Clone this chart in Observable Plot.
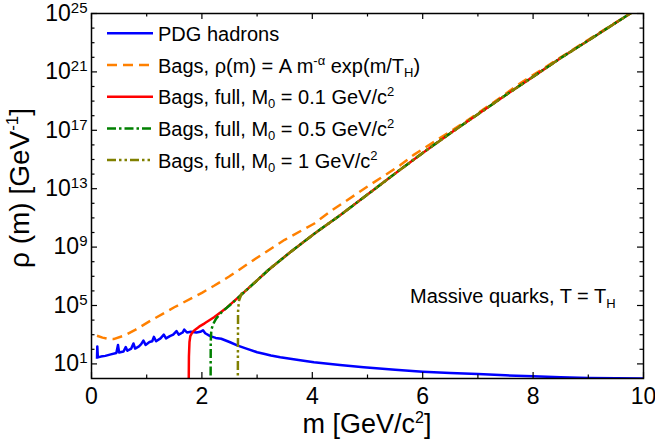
<!DOCTYPE html>
<html><head><meta charset="utf-8">
<script src="https://cdn.jsdelivr.net/npm/d3@7"></script>
<script src="https://cdn.jsdelivr.net/npm/@observablehq/plot@0.6"></script>
<style>
html,body{margin:0;padding:0;background:#fff;}
#chart{position:relative;width:655px;height:442px;}
svg text{white-space:pre;}
</style>
</head><body><div id="chart"></div>
<script>
// ---- data (y stored as log10 of rho) ----
const pdgM   = [0.100,0.105,0.115,0.17,0.25,0.35,0.45,0.48,0.50,0.58,0.62,0.65,0.72,0.76,0.79,0.86,0.90,0.94,0.98,1.05,1.10,1.13,1.17,1.25,1.31,1.35,1.42,1.48,1.54,1.58,1.65,1.68,1.73,1.80,1.90,1.97,2.02,2.06,2.15,2.25,2.35,2.50,2.65,2.82,3.00,3.12,3.25,3.42,3.75,4.03,4.50,4.93,5.50,6.00,6.50,7.00,7.50,8.00,8.50,9.00,9.50,10.0];
const pdgLog = [1.35,2.20,1.45,1.50,1.55,1.65,1.75,2.30,1.78,1.85,2.15,1.90,2.05,2.40,2.05,2.20,2.35,2.60,2.30,2.50,2.55,2.85,2.55,2.75,3.00,2.75,2.90,3.00,3.25,3.00,3.15,3.35,3.15,3.20,3.15,3.20,3.30,3.10,2.90,2.78,2.72,2.50,2.25,2.03,1.80,1.69,1.57,1.45,1.27,1.11,0.92,0.77,0.60,0.47,0.38,0.30,0.22,0.15,0.09,0.04,0.02,0.00];

const bagM   = [0.1,0.2,0.3,0.4,0.6,0.8,1.07,1.5,2.0,2.22,2.5,2.97,3.5,4.03,4.33,5.0,5.59,5.83,6.74,7.3,7.76,8.5,9.0,9.76,10.0];
const bagLog = [2.93,2.80,2.72,2.70,2.95,3.35,3.96,4.88,5.87,6.35,7.0,8.2,9.5,10.6,11.45,13.15,14.6,15.3,17.5,18.95,20.2,22.0,23.2,25.0,25.6];

const fullM   = [1.76,1.765,1.775,1.79,1.82,1.86,1.95,2.05,2.22,2.45,2.70,3.00,3.21,3.60,4.03,4.51,5.00,5.59,6.00,6.50,7.00,7.50,8.09,8.50,9.00,9.76,10.0];
const fullLog = [-1,1.5,2.5,2.9,3.12,3.29,3.55,3.78,4.2,4.85,5.69,6.72,7.45,8.65,9.90,11.2,12.6,14.3,15.45,16.8,18.1,19.4,20.9,21.95,23.15,25.0,25.6];

const m05M   = [2.157,2.16,2.17,2.20,2.25,2.32,2.40,2.50];
const m05Log = [-1,2.5,3.3,3.7,4.05,4.4,4.68,5.0];
const m05Join = 2.50;

const m1M   = [2.65,2.655,2.67,2.72,2.80];
const m1Log = [-1,4.6,5.3,5.82,6.05];
const m1Join = 2.80;

const xMajor = [0,2,4,6,8,10];
const xMinor = [1,3,5,7,9];
const yMajorExp = [1,5,9,13,17,21,25];
const yMinorExp = [2,3,4,6,7,8,10,11,12,14,15,16,18,19,20,22,23,24];

const colors = ["#0000ff","#ff8000","#ff0000","#008000","#808000"];
const dashes = [null,"10,6",null,"9,3,2.5,3","9,3,2.5,3,2.5,3"];

const legendParts = [
  [{t:"PDG hadrons"}],
  [{t:"Bags, ρ(m) = A m"},{t:"-α",sup:1},{t:" exp(m/T"},{t:"H",sub:1},{t:")"}],
  [{t:"Bags, full, M"},{t:"0",sub:1},{t:" = 0.1 GeV/c"},{t:"2",sup:1}],
  [{t:"Bags, full, M"},{t:"0",sub:1},{t:" = 0.5 GeV/c"},{t:"2",sup:1}],
  [{t:"Bags, full, M"},{t:"0",sub:1},{t:" = 1 GeV/c"},{t:"2",sup:1}]
];

// ---- build tables ----
const FONT = "'Liberation Sans', Arial, sans-serif";
const W = 655, H = 442, ML = 91, MR = 12, MT = 13, MB = 64;
const FW = W - ML - MR, FH = H - MT - MB;
const rows = (ms, logs) => ms.map((m, i) => ({m, rho: Math.pow(10, logs[i])}));
const joined = (ms, logs, cut) => rows(
  ms.concat(fullM.filter(m => m > cut)),
  logs.concat(fullLog.filter((_, i) => fullM[i] > cut))
);
const pdg = rows(pdgM, pdgLog);
const bag = rows(bagM, bagLog);
const full01 = rows(fullM, fullLog);
const full05 = joined(m05M, m05Log, m05Join);
const full1 = joined(m1M, m1Log, m1Join);
const yMajor = yMajorExp.map(e => Math.pow(10, e));
const yMinor = yMinorExp.map(e => Math.pow(10, e));

const lineOpts = (i) => ({x: "m", y: "rho", stroke: colors[i], strokeWidth: 2.5, clip: true,
  strokeDasharray: dashes[i] || undefined, strokeLinecap: "butt", strokeLinejoin: "round"});

// inward ticks on all four sides
const tickMarks = [];
for (const [vals, len] of [[xMajor, 6], [xMinor, 3.5]]) {
  tickMarks.push(Plot.tickX(vals, {x: d => d, insetTop: FH - len, stroke: "black", strokeWidth: 1.2}));
  tickMarks.push(Plot.tickX(vals, {x: d => d, insetBottom: FH - len, stroke: "black", strokeWidth: 1.2}));
}
for (const [vals, len] of [[yMajor, 6], [yMinor, 3.5]]) {
  tickMarks.push(Plot.tickY(vals, {y: d => d, insetRight: FW - len, stroke: "black", strokeWidth: 1.2}));
  tickMarks.push(Plot.tickY(vals, {y: d => d, insetLeft: FW - len, stroke: "black", strokeWidth: 1.2}));
}

const plot = Plot.plot({
  width: W, height: H,
  marginLeft: ML, marginRight: MR, marginTop: MT, marginBottom: MB,
  style: {fontFamily: FONT, fontSize: "23px", background: "white", color: "black"},
  x: {domain: [0, 10]},
  y: {type: "log", domain: [1, 1e25]},
  marks: [
    Plot.line(pdg, lineOpts(0)),
    Plot.line(bag, lineOpts(1)),
    Plot.line(full01, lineOpts(2)),
    Plot.line(full05, lineOpts(3)),
    Plot.line(full1, lineOpts(4)),
    ...tickMarks,
    Plot.axisX(xMajor, {anchor: "bottom", tickSize: 0, tickPadding: 9, fontSize: 23, label: null, tickFormat: d => String(d)}),
    Plot.axisY(yMajor, {anchor: "left", tickSize: 0, tickPadding: 4, fontSize: 23, label: null,
      tickFormat: d => "10^" + Math.round(Math.log10(d))}),
    Plot.frame({stroke: "black", strokeWidth: 1.5})
  ]
});

document.getElementById("chart").appendChild(plot);
const svg = d3.select(plot);

// superscript exponents on y tick labels
svg.selectAll('g[aria-label="y-axis tick label"] text').each(function () {
  const s = this.textContent;
  if (s.indexOf("^") < 0) return;
  const [b, e] = s.split("^");
  const t = d3.select(this);
  t.text(b);
  t.append("tspan").attr("dy", -8).attr("font-size", 15).text(e);
});

function rich(x, y, parts, size, small, supShift, subShift, anchor, rotate) {
  const t = svg.append("text").attr("x", x).attr("y", y)
    .attr("font-size", size).attr("font-family", FONT).attr("fill", "#000")
    .attr("text-anchor", anchor || "start");
  if (rotate) t.attr("transform", `rotate(${rotate},${x},${y})`);
  let shift = 0;
  for (const p of parts) {
    const target = p.sup ? -supShift : p.sub ? subShift : 0;
    const sp = t.append("tspan").attr("dy", target - shift).text(p.t);
    if (p.sup || p.sub) sp.attr("font-size", small);
    shift = target;
  }
  return t;
}

// legend
const legX1 = 107, legX2 = 153, legTextX = 158, legY0 = 33.3, legStep = 31.7;
legendParts.forEach((parts, i) => {
  const y = legY0 + i * legStep;
  const ln = svg.append("line").attr("x1", legX1).attr("x2", legX2).attr("y1", y).attr("y2", y)
    .attr("stroke", colors[i]).attr("stroke-width", 2.5);
  if (dashes[i]) ln.attr("stroke-dasharray", dashes[i]);
  rich(legTextX, y + 7.5, parts, 20, 13, 8, 4);
});

// annotation
rich(410, 303, [{t:"Massive quarks, T = T"},{t:"H",sub:1}], 20, 13, 8, 5);

// axis titles
rich(367, 433, [{t:"m [GeV/c"},{t:"2",sup:1},{t:"]"}], 27, 16, 10, 5, "middle");
rich(29, 188, [{t:"ρ (m) [GeV"},{t:"-1",sup:1},{t:"]"}], 28, 17, 11, 5, "middle", -90);
</script>
</body></html>
